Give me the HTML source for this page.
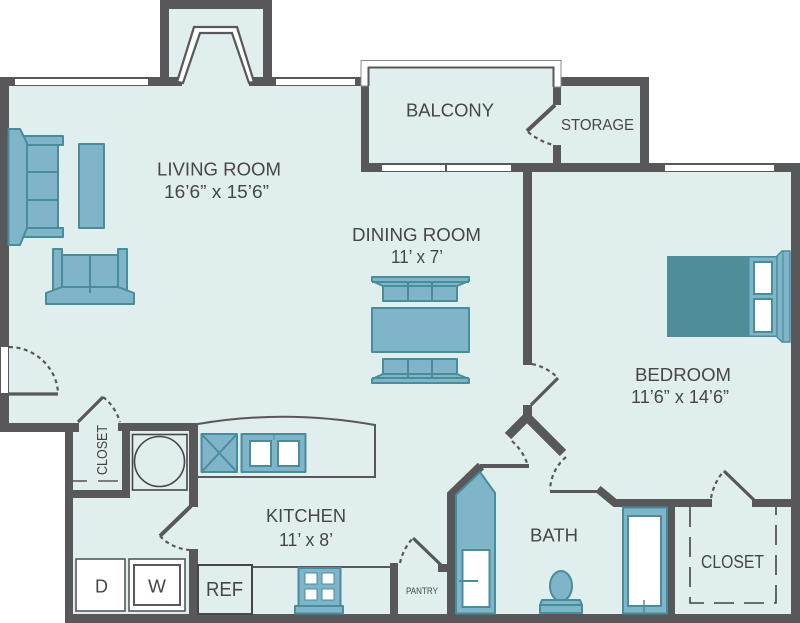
<!DOCTYPE html>
<html>
<head>
<meta charset="utf-8">
<style>
html,body{margin:0;padding:0;background:#fff;}
svg{display:block;}
text{font-family:"Liberation Sans",sans-serif;fill:#46464a;}
</style>
</head>
<body>
<svg width="800" height="623" viewBox="0 0 800 623" xmlns="http://www.w3.org/2000/svg">
<!-- floor -->
<polygon fill="#e1eeee" points="0,77 160,77 160,0 272,0 272,77 361,77 361,60 561,60 561,77 649,77 649,163 800,163 800,623 65,623 65,432 0,432"/>

<!-- walls -->
<g fill="#58585a">
  <!-- top bump -->
  <rect x="160" y="0" width="112" height="9"/>
  <rect x="160" y="0" width="9" height="86"/>
  <rect x="263" y="0" width="9" height="86"/>
  <!-- living top -->
  <rect x="0" y="77" width="182" height="9"/>
  <rect x="249" y="77" width="120" height="9"/>
  <!-- left wall -->
  <rect x="0" y="77" width="9" height="355"/>
  <rect x="0" y="423" width="79" height="9"/>
  <rect x="65" y="423" width="8" height="200"/>
  <rect x="118" y="423" width="80" height="8"/>
  <rect x="122" y="423" width="8" height="75"/>
  <rect x="65" y="490" width="65" height="8"/>
  <rect x="189" y="423" width="9" height="84"/>
  <rect x="189" y="549" width="9" height="74"/>
  <rect x="65" y="614" width="735" height="9"/>
  <!-- balcony -->
  <rect x="361" y="86" width="8" height="86"/>
  <rect x="361" y="163" width="439" height="9"/>
  <rect x="553" y="87" width="8" height="18"/>
  <rect x="553" y="145" width="8" height="20"/>
  <!-- storage -->
  <rect x="561" y="77" width="88" height="9"/>
  <rect x="640" y="77" width="9" height="90"/>
  <!-- right wall -->
  <rect x="791" y="163" width="9" height="460"/>
  <!-- center wall -->
  <rect x="523" y="172" width="9" height="193"/>
  <rect x="523" y="405" width="9" height="12"/>
  <!-- pantry -->
  <rect x="390" y="563" width="8" height="55"/>
  <rect x="438" y="564" width="10" height="8"/>
  <!-- closet/bed walls -->
  <rect x="752" y="499" width="40" height="8"/>
  <rect x="667" y="500" width="8" height="116"/>
  <rect x="73" y="423" width="6" height="8"/>
</g>
<g fill="none" stroke="#58585a">
  <polyline stroke-width="9" points="508,436 527,417 563,453"/>
  <polyline stroke-width="9" points="451.5,623 451.5,494.5 481,466"/>
  <line x1="480" y1="466" x2="529" y2="466" stroke-width="4"/>
  <polyline stroke-width="3" points="550,491.5 598,491.5"/>
  <polyline stroke-width="8" points="598,489 615,503 712,503"/>
  <!-- door leaves -->
  <line x1="555" y1="105" x2="527" y2="131" stroke-width="4"/>
  <line x1="558" y1="378" x2="531" y2="405" stroke-width="3.2"/>
  <line x1="724" y1="471" x2="754" y2="500" stroke-width="3.2"/>
  <line x1="413" y1="538" x2="441" y2="565" stroke-width="3.2"/>
  <line x1="191" y1="506" x2="160" y2="536" stroke-width="4"/>
  <line x1="78" y1="422" x2="103" y2="397" stroke-width="3.2"/>
  <line x1="9" y1="394" x2="58" y2="394" stroke-width="3.2"/>
  <!-- door swings -->
  <g stroke-width="2.2" stroke-dasharray="4 3.5">
    <path d="M528,132 Q539,141 553,145"/>
    <path d="M532,364 Q547,367 558,378"/>
    <path d="M512,441 Q524,452 528,466"/>
    <path d="M566,457 Q551,470 550,490"/>
    <path d="M711,498 Q714,482 724,471"/>
    <path d="M400,563 Q403,549 413,538"/>
    <path d="M160,536 Q171,548 189,550"/>
    <path d="M103,397 Q115,406 120,422"/>
    <path d="M9,347 C35,347 57,368 58,393"/>
  </g>
  <!-- closet rod -->
  <g stroke-width="1.6">
    <line x1="73" y1="481" x2="87" y2="481"/>
    <line x1="98" y1="481" x2="118" y2="481"/>
  </g>
  <!-- closet dashed -->
  <g stroke-width="1.6" stroke-dasharray="20 10" stroke="#444">
    <polyline points="690,507 690,603 776,603 776,507" />
  </g>
  <!-- kitchen counter -->
  <path d="M198,424 Q285,409 375,425 L375,477 L198,477" stroke-width="2"/>
  <polyline points="252,567 390,567" stroke-width="2"/>
</g>

<!-- windows -->
<g fill="#fff">
  <rect x="15" y="79" width="133" height="6"/>
  <rect x="276" y="79" width="79" height="6"/>
  <rect x="382" y="165" width="63" height="6"/>
  <rect x="447" y="165" width="64" height="6"/>
  <rect x="665" y="165" width="109" height="6"/>
  <rect x="1" y="347" width="7" height="46"/>
</g>
<!-- balcony rail -->
<path d="M361,86 L361,60.5 L561,60.5 L561,87 L553.5,87 L553.5,67.5 L368.5,67.5 L368.5,86 Z" fill="#fff" stroke="#8a8a8c" stroke-width="1"/>
<polyline points="368.5,86 368.5,67.5 553.5,67.5 553.5,87" fill="none" stroke="#58585a" stroke-width="2"/>
<!-- bay window -->
<polygon points="177,82 194,27 237,27 254,82 249,83 232,33 200,33 183,83" fill="#fff" stroke="#58585a" stroke-width="2.2"/>

<!-- furniture -->
<g fill="#7fb4c9" stroke="#4a8d9a" stroke-width="2" stroke-linejoin="round">
  <polygon points="22,136 63,136 63,145 27,145"/>
  <polygon points="22,237 63,237 63,228 27,228"/>
  <rect x="27" y="145" width="31" height="83"/>
  <line x1="20" y1="172" x2="58" y2="172"/>
  <line x1="20" y1="200" x2="58" y2="200"/>
  <polygon points="8.5,129 20,129 27,143 27,228 20,245 8.5,245"/>
  <rect x="79" y="144" width="25" height="84"/>
  <rect x="62" y="255" width="56" height="33"/>
  <rect x="53" y="249" width="9" height="41"/>
  <rect x="118" y="249" width="9" height="41"/>
  <polygon points="46,293 62,287 118,287 134,293 134,304 46,304"/>
  <line x1="90" y1="255" x2="90" y2="293"/>

  <!-- dining -->
  <rect x="372" y="308" width="97" height="44"/>
  <rect x="383" y="286" width="74" height="15"/>
  <polygon points="372,277 469,277 469,281 457,286 383,286 372,281"/>
  <line x1="372" y1="282" x2="469" y2="282"/>
  <line x1="408" y1="281" x2="408" y2="301"/>
  <line x1="432" y1="281" x2="432" y2="301"/>
  <rect x="383" y="359" width="74" height="15"/>
  <polygon points="372,383 469,383 469,379 457,374 383,374 372,379"/>
  <line x1="372" y1="378" x2="469" y2="378"/>
  <line x1="408" y1="359" x2="408" y2="379"/>
  <line x1="432" y1="359" x2="432" y2="379"/>

  <!-- stove -->
  <rect x="201.5" y="434" width="35.5" height="38"/>
  <line x1="201.5" y1="434" x2="237" y2="472"/>
  <line x1="237" y1="434" x2="201.5" y2="472"/>
  <!-- sink -->
  <rect x="241.5" y="434" width="64" height="38"/>
  <line x1="274" y1="434" x2="274" y2="440" stroke-width="1"/>

  <!-- kitchen sink below -->
  <rect x="298.5" y="568" width="42" height="38"/>
  <rect x="295" y="606" width="48" height="7.5"/>

  <!-- bath -->
  <polygon points="456,495 480,472 495,493 495,613.5 456,613.5"/>
  <rect x="623" y="507.5" width="44" height="106"/>
  <ellipse cx="561" cy="586" rx="11" ry="15"/>
  <polygon points="542,600 580,600 582,605 582,613 540,613 540,605"/>
  <line x1="540" y1="605" x2="582" y2="605"/>
</g>
<g fill="#fff" stroke="#4a8d9a" stroke-width="2">
  <rect x="250" y="441" width="21" height="25"/>
  <rect x="278" y="441" width="21" height="25"/>
  <rect x="305" y="573" width="12" height="11" stroke-width="1"/>
  <rect x="322" y="573" width="12" height="11" stroke-width="1"/>
  <rect x="305" y="589" width="12" height="11" stroke-width="1"/>
  <rect x="322" y="589" width="12" height="11" stroke-width="1"/>
  <rect x="462.5" y="550" width="27" height="57"/>
  <rect x="628" y="516" width="33" height="90"/>
</g>
<line x1="459" y1="581" x2="478" y2="581" stroke="#4a8d9a" stroke-width="2"/>
<line x1="644" y1="600" x2="644" y2="613" stroke="#4a8d9a" stroke-width="1.5"/>

<!-- bed -->
<rect x="667" y="256" width="110" height="81" fill="#508d99"/>
<rect x="749" y="257" width="28" height="79" fill="#7fb4c9" stroke="#4a8d9a" stroke-width="1"/>
<rect x="754" y="262" width="18" height="32" fill="#fff" stroke="#4a8d9a" stroke-width="2"/>
<rect x="754" y="299" width="18" height="33" fill="#fff" stroke="#4a8d9a" stroke-width="2"/>
<polygon points="777,256 782,251 790,251 790,342 782,342 777,337" fill="#7fb4c9" stroke="#4a8d9a" stroke-width="1.5"/>
<line x1="783" y1="251" x2="783" y2="342" stroke="#4a8d9a" stroke-width="1.2"/>

<!-- laundry & appliances -->
<g fill="#fff" stroke="#58585a" stroke-width="1.6">
  <rect x="76" y="559" width="49" height="52"/>
  <rect x="129" y="559" width="56" height="52"/>
  <rect x="134" y="565" width="46" height="40" stroke-width="2"/>
</g>
<g fill="none" stroke="#46464a" stroke-width="1.6">
  <rect x="132.5" y="434.5" width="54.5" height="55.5"/>
  <circle cx="159.5" cy="461.5" r="25"/>
  <rect x="198" y="565" width="54" height="49" stroke-width="2"/>
</g>

<!-- labels -->
<text x="157" y="175.5" font-size="18.5" textLength="124" lengthAdjust="spacingAndGlyphs">LIVING ROOM</text>
<text x="164" y="198" font-size="18.5" textLength="105" lengthAdjust="spacingAndGlyphs">16’6” x 15’6”</text>
<text x="352" y="241" font-size="18.5" textLength="129" lengthAdjust="spacingAndGlyphs">DINING ROOM</text>
<text x="391" y="263" font-size="18.5" textLength="52" lengthAdjust="spacingAndGlyphs">11’ x 7’</text>
<text x="406" y="116.5" font-size="18.5" textLength="88" lengthAdjust="spacingAndGlyphs">BALCONY</text>
<text x="561" y="130" font-size="16" textLength="73" lengthAdjust="spacingAndGlyphs">STORAGE</text>
<text x="635" y="381" font-size="18.5" textLength="96" lengthAdjust="spacingAndGlyphs">BEDROOM</text>
<text x="631" y="403" font-size="18.5" textLength="98" lengthAdjust="spacingAndGlyphs">11’6” x 14’6”</text>
<text x="530" y="541.5" font-size="18.5" textLength="48" lengthAdjust="spacingAndGlyphs">BATH</text>
<text x="701" y="568" font-size="18" textLength="63" lengthAdjust="spacingAndGlyphs">CLOSET</text>
<text x="266" y="522" font-size="18.5" textLength="80" lengthAdjust="spacingAndGlyphs">KITCHEN</text>
<text x="279" y="546" font-size="18.5" textLength="54" lengthAdjust="spacingAndGlyphs">11’ x 8’</text>
<text x="406" y="594" font-size="9.5" textLength="32" lengthAdjust="spacingAndGlyphs">PANTRY</text>
<text x="206" y="596" font-size="20" textLength="37" lengthAdjust="spacingAndGlyphs">REF</text>
<text x="95" y="592.5" font-size="18" textLength="13" lengthAdjust="spacingAndGlyphs">D</text>
<text x="148" y="592.5" font-size="18" textLength="18" lengthAdjust="spacingAndGlyphs">W</text>
<text transform="translate(107,475) rotate(-90)" x="0" y="0" font-size="15" textLength="50" lengthAdjust="spacingAndGlyphs">CLOSET</text>
</svg>
</body>
</html>
